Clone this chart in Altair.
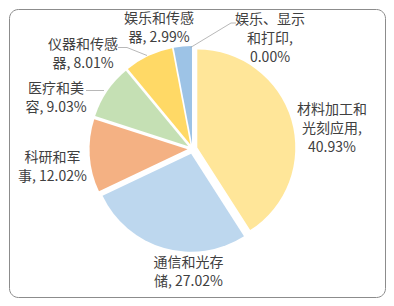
import altair as alt
import pandas as pd

categories = ["材料加工和光刻应用", "通信和光存储", "科研和军事", "医疗和美容",
              "仪器和传感器", "娱乐和传感器", "娱乐、显示和打印"]
values = [40.93, 27.02, 12.02, 9.03, 8.01, 2.99, 0.00]
labels = ["材料加工和\n光刻应用,\n40.93%", "通信和光存\n储, 27.02%", "科研和军\n事, 12.02%",
          "医疗和美\n容, 9.03%", "仪器和传感\n器, 8.01%", "娱乐和传感\n器, 2.99%",
          "娱乐、显示\n和打印,\n0.00%"]
colors = ["#FFE699", "#BDD7EE", "#F4B183", "#C5E0B4", "#FFD966", "#9DC3E6", "#A9D18E"]

# label placement (first line) relative to pie centre (px, up positive)
label_dx = [139.5, -4, -140, -136.5, -109.5, -33.5, 77.5]
label_up = [39, -114, -8.5, 60.5, 104.5, 130, 129.5]

# leader lines relative to pie centre
leader_id = ["a", "a", "b", "b", "b", "c", "c", "c"]
leader_dx = [-106.5, -88.5, -74.5, -65.5, -45.5, 43.5, 38.5, -2]
leader_up = [58.5, 58.5, 101.5, 101.5, 93.5, 126, 126, 101.5]

W, H = 376, 288
CX, CY = 183.5, 140
EXPLODE = 5
FONT = "Noto Sans CJK SC"

slices = pd.DataFrame({"cat": categories, "value": values, "idx": list(range(len(values))),
                       "label": labels, "lx": label_dx, "ly": label_up})
leaders = pd.DataFrame({"id": leader_id, "x": leader_dx, "y": leader_up,
                        "o": list(range(len(leader_id)))})

xs = alt.Scale(domain=[-CX, W - CX], nice=False, zero=False)
ys = alt.Scale(domain=[-(H - CY), CY], nice=False, zero=False)
cscale = alt.Scale(domain=categories, range=colors)

base = alt.Chart(slices).transform_joinaggregate(
    total="sum(value)"
).transform_window(
    cum="sum(value)", sort=[alt.SortField("idx")], frame=[None, 0]
).transform_calculate(
    t0="(datum.cum - datum.value) / datum.total * 2 * PI",
    t1="datum.cum / datum.total * 2 * PI",
).transform_calculate(
    mid="(datum.t0 + datum.t1) / 2"
).transform_calculate(
    ox=f"{EXPLODE} * sin(datum.mid)",
    oy=f"{EXPLODE} * cos(datum.mid)",
)

arcs = base.transform_filter("datum.value > 0").mark_arc(outerRadius=98).encode(
    x=alt.X("ox:Q", scale=xs, axis=None),
    y=alt.Y("oy:Q", scale=ys, axis=None),
    theta=alt.Theta("t0:Q", scale=None),
    theta2="t1:Q",
    color=alt.Color("cat:N", scale=cscale, legend=None),
)

lines = alt.Chart(leaders).mark_line(color="#A6A6A6", strokeWidth=0.8).encode(
    x=alt.X("x:Q", scale=xs, axis=None),
    y=alt.Y("y:Q", scale=ys, axis=None),
    detail="id:N",
    order="o:Q",
)

texts = alt.Chart(slices).mark_text(
    font=FONT, fontSize=14, color="#404040", align="center", baseline="middle",
    lineBreak="\n", lineHeight=19,
).encode(
    x=alt.X("lx:Q", scale=xs, axis=None),
    y=alt.Y("ly:Q", scale=ys, axis=None),
    text="label:N",
)

chart = alt.layer(arcs, lines, texts).properties(
    width=W, height=H, padding=1, autosize="none"
).configure_view(
    stroke="#8C8C8C", strokeWidth=1, cornerRadius=9
)

chart.save("out.html", embed_options={"renderer": "svg", "actions": False})
